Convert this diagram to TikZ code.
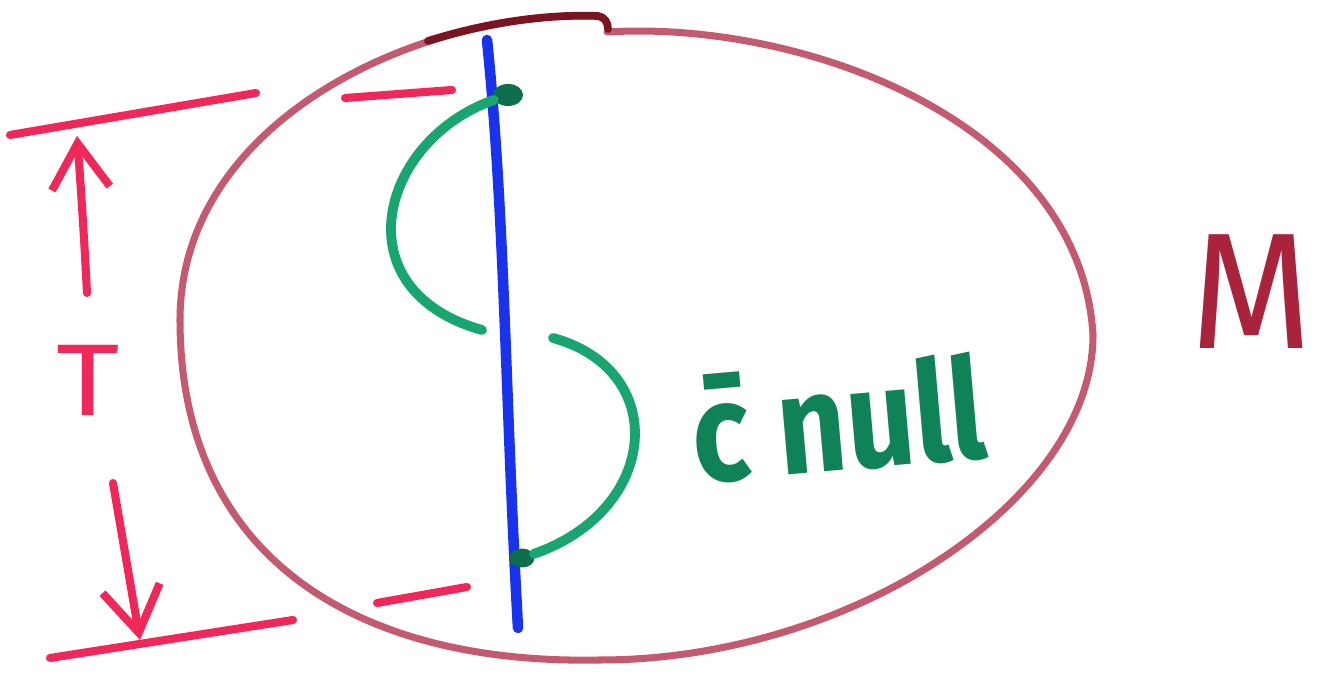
\documentclass[tikz,border=0pt]{standalone}
\usepackage{fontspec}
\setmainfont{Fira Sans}
\usetikzlibrary{arrows.meta,shapes.geometric}
\definecolor{rimpen}{RGB}{196,90,112}
\definecolor{rimdark}{RGB}{122,20,32}
\definecolor{redpen}{RGB}{240,40,90}
\definecolor{bluepen}{RGB}{25,50,235}
\definecolor{greenpen}{RGB}{25,165,112}
\definecolor{greendark}{RGB}{15,130,88}
\definecolor{mpen}{RGB}{170,35,60}

\begin{document}
\begin{tikzpicture}[line cap=round,line join=round,
  rline/.style={redpen,line width=2.3pt},
  gline/.style={greenpen,line width=2.8pt},
  tarrow/.style={-{Straight Barb[length=4.5mm,width=5.8mm]}},
  pendot/.style={ellipse,fill=greendark!85!black,inner sep=0pt}]
\useasboundingbox (0,0) rectangle (13.22,6.76);
% manifold outline
\draw[rimpen,line width=2pt] (6.07,6.44) .. controls (8.00,6.56) and (10.80,5.56) .. (10.93,3.41)
  .. controls (10.93,1.76) and (8.50,0.16) .. (6.00,0.16)
  .. controls (3.60,0.11) and (1.80,1.16) .. (1.80,3.56)
  .. controls (1.80,5.56) and (4.20,6.66) .. (5.98,6.60);
\draw[rimdark,line width=2.2pt] (4.28,6.35) .. controls (4.85,6.53) and (5.45,6.62) .. (5.98,6.60)
  .. controls (6.05,6.59) and (6.08,6.53) .. (6.08,6.47);
% time slab
\coordinate (topleft) at (0.10,5.41);
\coordinate (topright) at (2.56,5.83);
\coordinate (botleft) at (0.50,0.18);
\coordinate (botright) at (2.93,0.56);
\draw[rline] (topleft) -- (topright);
\draw[rline] (3.45,5.78) -- (4.52,5.86);
\draw[rline] (botleft) -- (botright);
\draw[rline] (3.77,0.73) -- (4.67,0.89);
\node[redpen,xscale=1.2,font=\fontsize{29}{29}\selectfont] (tlabel) at (0.88,2.96) {T};
\coordinate (upfoot) at (0.87,3.83);
\coordinate (uptip) at (0.77,5.40);
\coordinate (downfoot) at (1.13,1.93);
\coordinate (downtip) at (1.40,0.36);
\draw[rline,tarrow] (upfoot) .. controls (0.83,4.60) and (0.80,5.00) .. (uptip);
\draw[rline,tarrow] (downfoot) -- (downtip);
% observer worldline
\draw[bluepen,line width=3pt] (4.87,6.36) .. controls (5.05,4.60) and (5.05,2.80) .. (5.18,0.48);
% curve pieces
\node[pendot,minimum width=3mm,minimum height=2.2mm] (topdot) at (5.08,5.81) {};
\node[pendot,minimum width=2.5mm,minimum height=1.9mm] (botdot) at (5.22,1.18) {};
\coordinate (upend) at (4.82,3.46);
\coordinate (lowstart) at (5.53,3.38);
\draw[gline] (topdot) .. controls (3.80,5.36) and (3.40,3.86) .. (upend);
\draw[gline] (lowstart) .. controls (6.70,3.06) and (6.60,1.66) .. (botdot);
\node[greendark,rotate=5,xscale=0.85,font=\fontsize{40}{40}\selectfont\bfseries] (nulllabel) at (8.38,2.58) {c̄ null};
\node[mpen,xscale=0.95,font=\fontsize{47}{47}\selectfont] (mlabel) at (12.52,3.84) {M};
\end{tikzpicture}
\end{document}
